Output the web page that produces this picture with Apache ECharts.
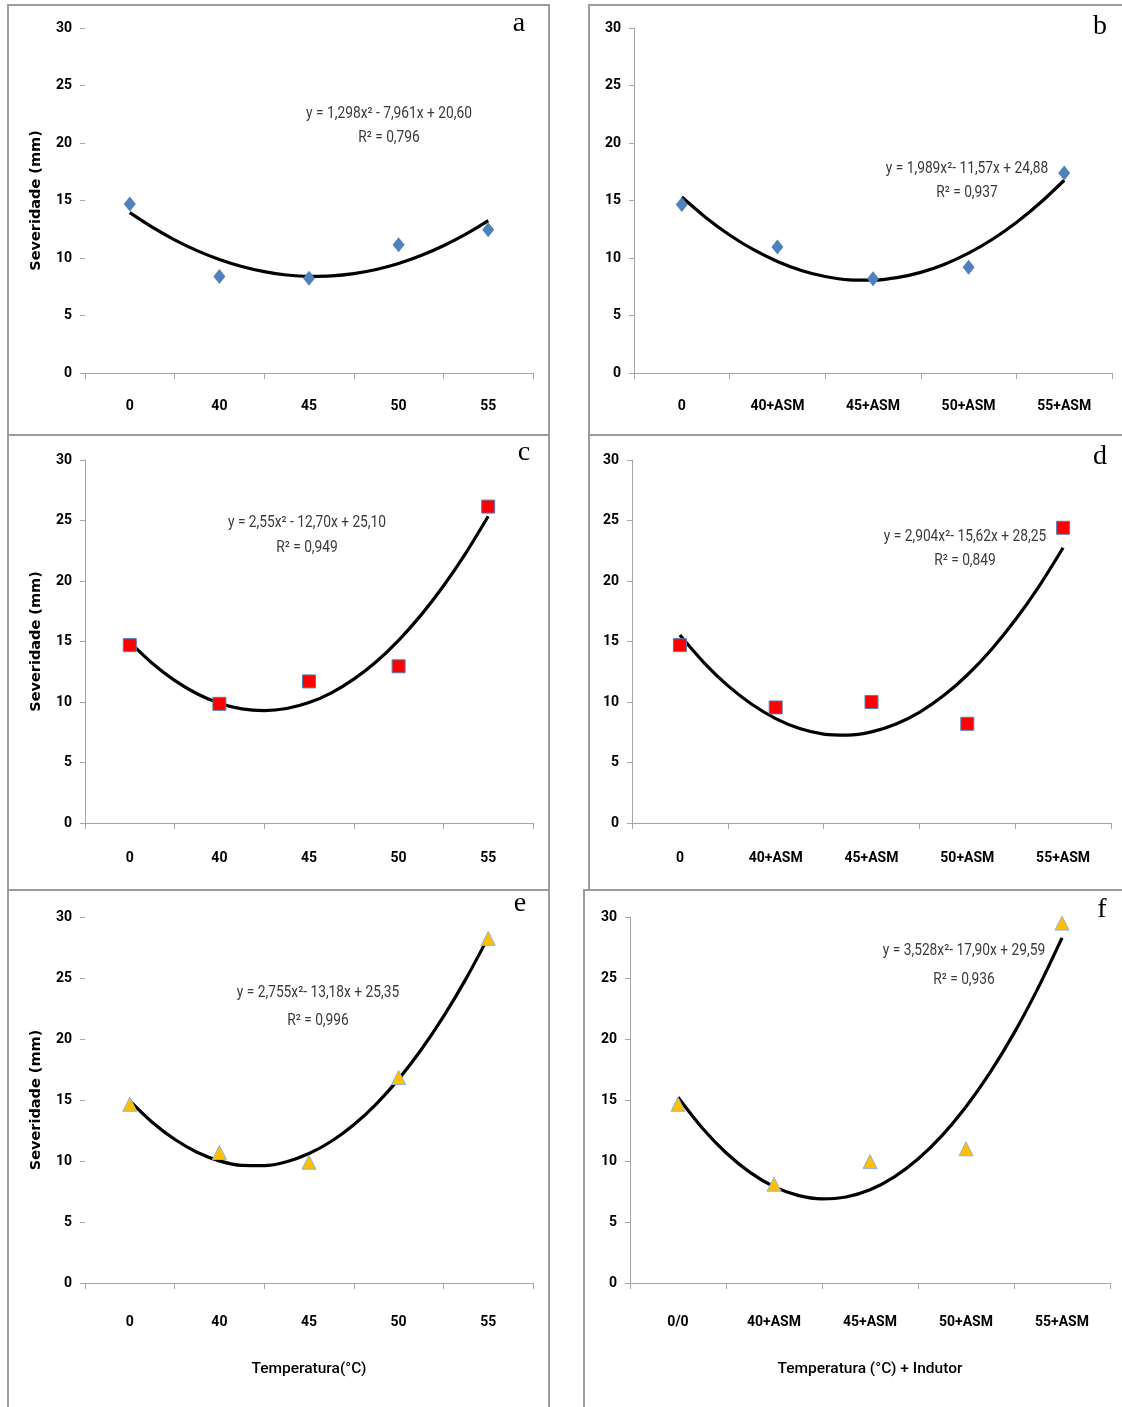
<!DOCTYPE html>
<html>
<head>
<meta charset="utf-8">
<script src="https://cdn.jsdelivr.net/npm/echarts@6/dist/echarts.min.js"></script>
<style>
html,body{margin:0;padding:0;background:#fff;}
#chart{width:1122px;height:1407px;}
</style>
</head>
<body>
<div id="chart"></div>
<script>
// ---- data ----
const categoriesTemp = ['0', '40', '45', '50', '55'];
const categoriesASM = ['0', '40+ASM', '45+ASM', '50+ASM', '55+ASM'];
const categoriesASMf = ['0/0', '40+ASM', '45+ASM', '50+ASM', '55+ASM'];
const yTicks = [0, 5, 10, 15, 20, 25, 30];

const valuesA = [14.7, 8.4, 8.25, 11.15, 12.45];
const valuesB = [14.65, 10.95, 8.2, 9.2, 17.4];
const valuesC = [14.7, 9.85, 11.7, 12.95, 26.15];
const valuesD = [14.7, 9.55, 10.0, 8.2, 24.4];
const valuesE = [14.65, 10.7, 9.9, 16.85, 28.25];
const valuesF = [14.65, 8.1, 9.95, 11.0, 29.5];

// trend-line positions (category index 1..5) and values
const trendX = [1, 1.25, 1.5, 1.75, 2, 2.25, 2.5, 2.75, 3, 3.25, 3.5, 3.75, 4, 4.25, 4.5, 4.75, 5];
const trendA = [13.94, 12.68, 11.58, 10.64, 9.87, 9.26, 8.81, 8.52, 8.40, 8.44, 8.64, 9.00, 9.52, 10.21, 11.06, 12.07, 13.25];
const trendB = [15.30, 13.53, 12.00, 10.72, 9.70, 8.92, 8.39, 8.10, 8.07, 8.29, 8.75, 9.46, 10.42, 11.63, 13.09, 14.80, 16.76];
const trendC = [14.95, 13.21, 11.79, 10.68, 9.90, 9.43, 9.29, 9.46, 9.95, 10.76, 11.89, 13.33, 15.10, 17.18, 19.59, 22.31, 25.35];
const trendD = [15.53, 13.26, 11.35, 9.81, 8.63, 7.81, 7.35, 7.26, 7.53, 8.16, 9.15, 10.51, 12.23, 14.32, 16.77, 19.58, 22.75];
const trendE = [14.93, 13.18, 11.78, 10.72, 10.01, 9.64, 9.62, 9.94, 10.61, 11.62, 12.97, 14.67, 16.71, 19.10, 21.83, 24.91, 28.33];
const trendF = [15.22, 12.73, 10.68, 9.07, 7.90, 7.18, 6.89, 7.05, 7.64, 8.68, 10.16, 12.08, 14.44, 17.24, 20.48, 24.17, 28.29];

const equations = [
  'y = 1,298x² - 7,961x + 20,60', 'y = 1,989x²- 11,57x + 24,88',
  'y = 2,55x² - 12,70x + 25,10', 'y = 2,904x²- 15,62x + 28,25',
  'y = 2,755x²- 13,18x + 25,35', 'y = 3,528x²- 17,90x + 29,59'
];
const r2 = ['R² = 0,796', 'R² = 0,937', 'R² = 0,949', 'R² = 0,849', 'R² = 0,996', 'R² = 0,936'];
const letters = ['a', 'b', 'c', 'd', 'e', 'f'];
const yName = 'Severidade (mm)';
const xNames = ['Temperatura(°C)', 'Temperatura (°C) + Indutor'];

// ---- layout ----
const LABEL_FONT = "Roboto, 'DejaVu Sans Condensed', sans-serif";
const panels = [
  {grid: {left: 85, top: 28, width: 448, height: 345}, cats: categoriesTemp, vals: valuesA, trend: trendA, yLine: false, yName: true, margin: 26, sym: 'diamond', size: [12, 15], color: '#4F81BD', border: null, eq: [389, 114, 389, 138], letter: [519, 24], box: [8, 5, 541, 430]},
  {grid: {left: 634, top: 28, width: 478, height: 345}, cats: categoriesASM, vals: valuesB, trend: trendB, yLine: true, yName: false, margin: 26, sym: 'diamond', size: [12, 15], color: '#4F81BD', border: null, eq: [967, 169, 967, 193], letter: [1100, 27], box: [589, 5, 540, 430]},
  {grid: {left: 85, top: 460, width: 448, height: 363}, cats: categoriesTemp, vals: valuesC, trend: trendC, yLine: true, yName: true, margin: 28, sym: 'rect', size: 13, color: '#FF0000', border: '#4F81BD', eq: [307, 523, 307, 548], letter: [524, 453], box: [8, 435, 541, 455]},
  {grid: {left: 632, top: 460, width: 479, height: 363}, cats: categoriesASM, vals: valuesD, trend: trendD, yLine: true, yName: false, margin: 28, sym: 'rect', size: 13, color: '#FF0000', border: '#4F81BD', eq: [965, 537, 965, 561], letter: [1100, 457], box: [589, 435, 540, 455]},
  {grid: {left: 85, top: 917, width: 448, height: 366}, cats: categoriesTemp, vals: valuesE, trend: trendE, yLine: false, yName: true, margin: 32, sym: 'triangle', size: 14, color: '#FFC000', border: '#8EB4E3', eq: [318, 993, 318, 1021], letter: [520, 904], box: [8, 890, 541, 530], xName: xNames[0]},
  {grid: {left: 630, top: 917, width: 480, height: 366}, cats: categoriesASMf, vals: valuesF, trend: trendF, yLine: true, yName: false, margin: 32, sym: 'triangle', size: 14, color: '#FFC000', border: '#8EB4E3', eq: [964, 951, 964, 980], letter: [1102, 910], box: [584, 890, 545, 530], xName: xNames[1]}
];

const option = {
  backgroundColor: '#ffffff',
  animation: false,
  grid: [], xAxis: [], yAxis: [], series: [], graphic: []
};

panels.forEach((p, i) => {
  option.grid.push(Object.assign({containLabel: false}, p.grid));
  option.xAxis.push({
    type: 'category', gridIndex: i, data: p.cats, boundaryGap: true,
    axisLine: {show: true, lineStyle: {color: '#A6A6A6', width: 1}},
    axisTick: {show: true, length: 6, interval: 0, alignWithLabel: false, lineStyle: {color: '#A6A6A6'}},
    axisLabel: {interval: 0, margin: p.margin, color: '#000', fontFamily: LABEL_FONT, fontWeight: 'bold', fontSize: 14},
    splitLine: {show: false},
    name: p.xName || '', nameLocation: 'middle', nameGap: 78,
    nameTextStyle: {color: '#000', fontFamily: LABEL_FONT, fontWeight: 500, fontSize: 15.5}
  });
  option.xAxis.push({type: 'value', gridIndex: i, min: 0.5, max: 5.5, show: false});
  option.yAxis.push({
    type: 'value', gridIndex: i, min: yTicks[0], max: yTicks[yTicks.length - 1], interval: yTicks[1] - yTicks[0],
    axisLine: {show: p.yLine, lineStyle: {color: '#A6A6A6', width: 1}},
    axisTick: {show: true, length: 5, lineStyle: {color: '#A6A6A6'}},
    axisLabel: {margin: 13, color: '#000', fontFamily: LABEL_FONT, fontWeight: 'bold', fontSize: 14},
    splitLine: {show: false},
    name: p.yName ? yName : '', nameLocation: 'middle', nameGap: 41, nameRotate: 90,
    nameTextStyle: {color: '#000', fontFamily: "'DejaVu Sans', Verdana, sans-serif", fontWeight: 'bold', fontSize: 14.5}
  });
  option.series.push({
    type: 'line', xAxisIndex: 2 * i + 1, yAxisIndex: i,
    data: trendX.map((x, k) => [x, p.trend[k]]),
    smooth: 0.3, showSymbol: false, symbol: 'none',
    lineStyle: {color: '#000', width: 3.2}, z: 2
  });
  option.series.push({
    type: 'scatter', xAxisIndex: 2 * i, yAxisIndex: i,
    data: p.vals, symbol: p.sym, symbolSize: p.size,
    itemStyle: {color: p.color, borderColor: p.border || p.color, borderWidth: p.border ? 1 : 0, opacity: 1},
    z: 3
  });
  const b = p.box;
  option.graphic.push({
    type: 'rect', shape: {x: b[0], y: b[1], width: b[2], height: b[3]},
    style: {fill: 'none', stroke: '#9C9C9C', lineWidth: 2}, z: 1
  });
  option.graphic.push({
    type: 'text', x: p.eq[0], y: p.eq[1], scaleX: 0.86,
    style: {text: equations[i], textAlign: 'center', textVerticalAlign: 'middle', fill: '#3A3A3A', font: '16px ' + LABEL_FONT}, z: 5
  });
  option.graphic.push({
    type: 'text', x: p.eq[2], y: p.eq[3], scaleX: 0.86,
    style: {text: r2[i], textAlign: 'center', textVerticalAlign: 'middle', fill: '#3A3A3A', font: '16px ' + LABEL_FONT}, z: 5
  });
  option.graphic.push({
    type: 'text', x: p.letter[0], y: p.letter[1],
    style: {text: letters[i], textAlign: 'center', textVerticalAlign: 'middle', fill: '#000', font: '28px "Liberation Serif", "Times New Roman", serif'}, z: 5
  });
});

const chart = echarts.init(document.getElementById('chart'), null, {renderer: 'canvas'});
chart.setOption(option);
</script>
</body>
</html>
